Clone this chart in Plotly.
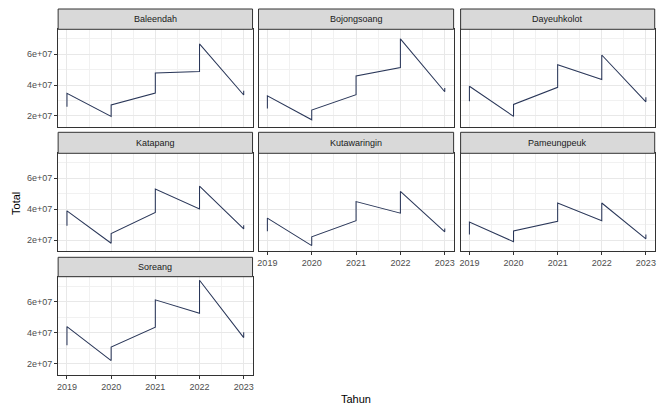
import plotly.graph_objects as go

# ---------------- data ----------------
tahun = [2019, 2020, 2021, 2022, 2023]
kecamatan = ["Baleendah", "Bojongsoang", "Dayeuhkolot", "Katapang",
             "Kutawaringin", "Pameungpeuk", "Soreang"]

# two observations per year (path goes first -> second, then to next year)
baleendah_1 = [25.9e6, 19.6e6, 34.8e6, 48.7e6, 33.5e6]
baleendah_2 = [34.6e6, 27.0e6, 47.8e6, 66.7e6, 36.2e6]
bojongsoang_1 = [24.8e6, 17.4e6, 33.7e6, 51.3e6, 35.6e6]
bojongsoang_2 = [33.0e6, 23.7e6, 45.9e6, 70.0e6, 38.0e6]
dayeuhkolot_1 = [29.4e6, 19.6e6, 38.5e6, 43.5e6, 29.1e6]
dayeuhkolot_2 = [39.2e6, 27.4e6, 53.2e6, 59.5e6, 32.0e6]
katapang_1 = [29.3e6, 17.9e6, 37.9e6, 40.2e6, 27.2e6]
katapang_2 = [38.9e6, 24.2e6, 53.0e6, 54.9e6, 29.6e6]
kutawaringin_1 = [25.7e6, 16.4e6, 32.5e6, 37.4e6, 25.3e6]
kutawaringin_2 = [34.2e6, 22.1e6, 44.9e6, 51.5e6, 27.4e6]
pameungpeuk_1 = [23.6e6, 18.9e6, 32.1e6, 32.5e6, 20.8e6]
pameungpeuk_2 = [31.7e6, 25.9e6, 44.0e6, 44.0e6, 23.6e6]
soreang_1 = [32.0e6, 22.2e6, 43.7e6, 52.6e6, 37.0e6]
soreang_2 = [44.1e6, 30.9e6, 61.3e6, 73.9e6, 40.5e6]

y_ticks = [2e7, 4e7, 6e7]
y_tick_labels = ["2e+07", "4e+07", "6e+07"]

series = {
    "Baleendah": (baleendah_1, baleendah_2),
    "Bojongsoang": (bojongsoang_1, bojongsoang_2),
    "Dayeuhkolot": (dayeuhkolot_1, dayeuhkolot_2),
    "Katapang": (katapang_1, katapang_2),
    "Kutawaringin": (kutawaringin_1, kutawaringin_2),
    "Pameungpeuk": (pameungpeuk_1, pameungpeuk_2),
    "Soreang": (soreang_1, soreang_2),
}

# ---------------- layout geometry (pixels) ----------------
W, H = 657, 408
cols = [(57.3, 252.3), (258.3, 454.0), (461.0, 655.7)]
rows = [(9.0, 29.3, 126.7), (132.3, 153.3, 251.0), (257.3, 276.7, 375.0)]

def px_x(p):
    return p / W

def px_y(p):
    return 1 - p / H

FONT = "Arial, Liberation Sans, sans-serif"
LINE_COLOR = "#2a3759"

fig = go.Figure()
layout = dict(
    width=W, height=H,
    margin=dict(l=0, r=0, t=0, b=0),
    paper_bgcolor="white", plot_bgcolor="white",
    showlegend=False,
    font=dict(family=FONT, size=9, color="#4d4d4d"),
)
shapes = []
annotations = []

# which panels show x tick labels (bottom of each column)
bottom_panels = {"Soreang", "Kutawaringin", "Pameungpeuk"}

for i, name in enumerate(kecamatan):
    r, c = divmod(i, 3)
    k = i + 1
    xa = "x" if k == 1 else f"x{k}"
    ya = "y" if k == 1 else f"y{k}"
    first, second = series[name]
    xs, ys = [], []
    for t, a, b in zip(tahun, first, second):
        xs += [t, t]
        ys += [a, b]
    fig.add_trace(go.Scatter(x=xs, y=ys, mode="lines", xaxis=xa, yaxis=ya,
                             line=dict(color=LINE_COLOR, width=1.05),
                             hoverinfo="skip"))
    x0, x1 = cols[c]
    st, pt, pb = rows[r]
    show_x = name in bottom_panels
    show_y = c == 0
    layout["xaxis" if k == 1 else f"xaxis{k}"] = dict(
        domain=[px_x(x0), px_x(x1)], anchor=ya,
        range=[2018.8, 2023.2],
        tickvals=tahun, ticktext=[str(t) for t in tahun],
        showticklabels=show_x,
        ticks="outside" if show_x else "", ticklen=3, tickwidth=1, tickcolor="#333333",
        tickfont=dict(family=FONT, size=9, color="#4d4d4d"),
        showgrid=True, gridcolor="#e8e8e8", gridwidth=1,
        minor=dict(dtick=0.5, tick0=2018.5, showgrid=True, gridcolor="#f1f1f1", gridwidth=0.7),
        showline=True, mirror=True, linecolor="#333333", linewidth=1,
        zeroline=False, fixedrange=True,
    )
    layout["yaxis" if k == 1 else f"yaxis{k}"] = dict(
        domain=[px_y(pb), px_y(pt)], anchor=xa,
        range=[1.29e7, 7.62e7],
        tickvals=y_ticks, ticktext=y_tick_labels,
        showticklabels=show_y,
        ticks="outside" if show_y else "", ticklen=3, tickwidth=1, tickcolor="#333333",
        tickfont=dict(family=FONT, size=9, color="#4d4d4d"),
        showgrid=True, gridcolor="#e8e8e8", gridwidth=1,
        minor=dict(dtick=1e7, tick0=0, showgrid=True, gridcolor="#f1f1f1", gridwidth=0.7),
        showline=True, mirror=True, linecolor="#333333", linewidth=1,
        zeroline=False, fixedrange=True,
    )
    # strip
    shapes.append(dict(type="rect", xref="paper", yref="paper",
                       x0=px_x(x0), x1=px_x(x1), y0=px_y(pt), y1=px_y(st),
                       fillcolor="#d9d9d9", line=dict(color="#333333", width=1),
                       layer="above"))
    annotations.append(dict(text=name, xref="paper", yref="paper",
                            x=px_x((x0 + x1) / 2), y=px_y((st + pt) / 2),
                            xanchor="center", yanchor="middle", showarrow=False,
                            font=dict(family=FONT, size=9, color="#1a1a1a")))

annotations.append(dict(text="Tahun", xref="paper", yref="paper",
                        x=px_x(356), y=px_y(399), xanchor="center", yanchor="middle",
                        showarrow=False, font=dict(family=FONT, size=11, color="black")))
annotations.append(dict(text="Total", xref="paper", yref="paper",
                        x=px_x(15), y=px_y(203), xanchor="center", yanchor="middle",
                        textangle=-90, showarrow=False,
                        font=dict(family=FONT, size=11, color="black")))

layout["shapes"] = shapes
layout["annotations"] = annotations
fig.update_layout(**layout)
fig.write_html("out.html", config={"displayModeBar": False})
